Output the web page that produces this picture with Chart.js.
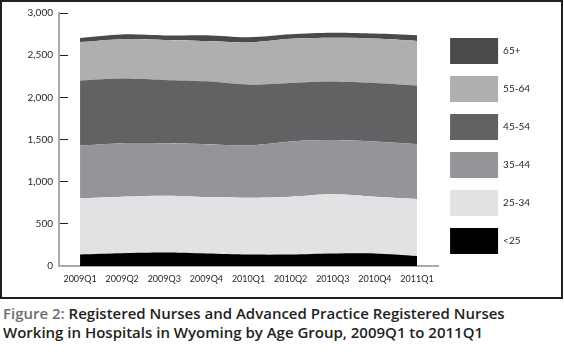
<!DOCTYPE html>
<html>
<head>
<meta charset="utf-8">
<script src="https://cdn.jsdelivr.net/npm/chart.js@4.4.1/dist/chart.umd.min.js"></script>
<style>
  body { margin: 0; background: #fff; }
  .chart-box {
    position: absolute; left: 0; top: 0;
    width: 559px; height: 295px;
    border: 2px solid #231f20;
  }
  .caption {
    position: absolute; left: 3px; top: 304px;
    font-family: "Open Sans", sans-serif; font-weight: 600;
    font-size: 15px; line-height: 19px; color: #231f20;
  }
  .caption span { color: #6d6e71; }
</style>
</head>
<body>
<div class="chart-box"><canvas id="chart" width="559" height="295"></canvas></div>
<div class="caption"><span>Figure 2:</span> Registered Nurses and Advanced Practice Registered Nurses<br>Working in Hospitals in Wyoming by Age Group, 2009Q1 to 2011Q1</div>

<script>
// quarters on the x axis
const quarters = ["2009Q1", "2009Q2", "2009Q3", "2009Q4", "2010Q1", "2010Q2", "2010Q3", "2010Q4", "2011Q1"];

// nurses per age group (stacked)
const under25 = [136, 151, 159, 148, 136, 136, 148, 148, 119];
const age25to34 = [666, 671, 674, 670, 674, 686, 702, 674, 675];
const age35to44 = [627, 635, 624, 627, 619, 654, 643, 654, 651];
const age45to54 = [770, 765, 750, 745, 722, 695, 694, 695, 696];
const age55to64 = [456, 468, 472, 477, 500, 524, 520, 526, 528];
const age65plus = [50, 56, 55, 69, 62, 53, 59, 59, 67];

const groupLabels = ["<25", "25-34", "35-44", "45-54", "55-64", "65+"];
const groupColors = ["#000000", "#e1e2e3", "#939598", "#616264", "#aeafb1", "#4a4a4c"];
const groupValues = [under25, age25to34, age35to44, age45to54, age55to64, age65plus];

const yTicksMax = 3000;
const yTicksStep = 500;

const datasets = groupValues.map((vals, i) => ({
  label: groupLabels[i],
  data: vals,
  backgroundColor: groupColors[i],
  borderColor: groupColors[i],
  borderWidth: 0,
  pointRadius: 0,
  tension: 0.3,
  fill: i === 0 ? "origin" : "-1"
}));

const textColor = "#231f20";
const axisGray = "#a7a9ac";

new Chart(document.getElementById("chart"), {
  type: "line",
  data: { labels: quarters, datasets: datasets },
  options: {
    responsive: false,
    animation: false,
    layout: { padding: { top: 11, right: 21, bottom: 12, left: 0 } },
    plugins: {
      tooltip: { enabled: false },
      legend: {
        position: "right",
        fullSize: false,
        align: "end",
        reverse: true,
        labels: {
          boxWidth: 48,
          boxHeight: 26,
          padding: 12,
          color: textColor,
          font: { family: "Lato", size: 10 }
        }
      }
    },
    scales: {
      x: {
        offset: true,
        afterFit: (scale) => { scale.height = 19; },
        // only the closing tick at the right end of the axis is visible
        grid: {
          display: true,
          offset: true,
          drawOnChartArea: false,
          drawTicks: true,
          tickLength: -6,
          color: (ctx) => (ctx.index === quarters.length ? axisGray : "rgba(0,0,0,0)")
        },
        border: { color: axisGray, width: 2 },
        ticks: {
          color: textColor,
          font: { family: "Lato", size: 9 },
          padding: 14,
          maxRotation: 0,
          autoSkip: false
        }
      },
      y: {
        stacked: true,
        min: 0,
        max: yTicksMax,
        afterFit: (scale) => {
          scale.width = 57;
          // the big tick padding would otherwise push the plot in
          scale.paddingTop = 6;
          scale.paddingBottom = 6;
        },
        // ticks point into the plot like the original
        grid: { drawOnChartArea: false, drawTicks: true, tickLength: -9, color: textColor },
        border: { color: axisGray, width: 2 },
        ticks: {
          stepSize: yTicksStep,
          color: textColor,
          font: { family: "Lato", size: 10 },
          padding: 15
        }
      }
    }
  }
});
</script>
</body>
</html>
